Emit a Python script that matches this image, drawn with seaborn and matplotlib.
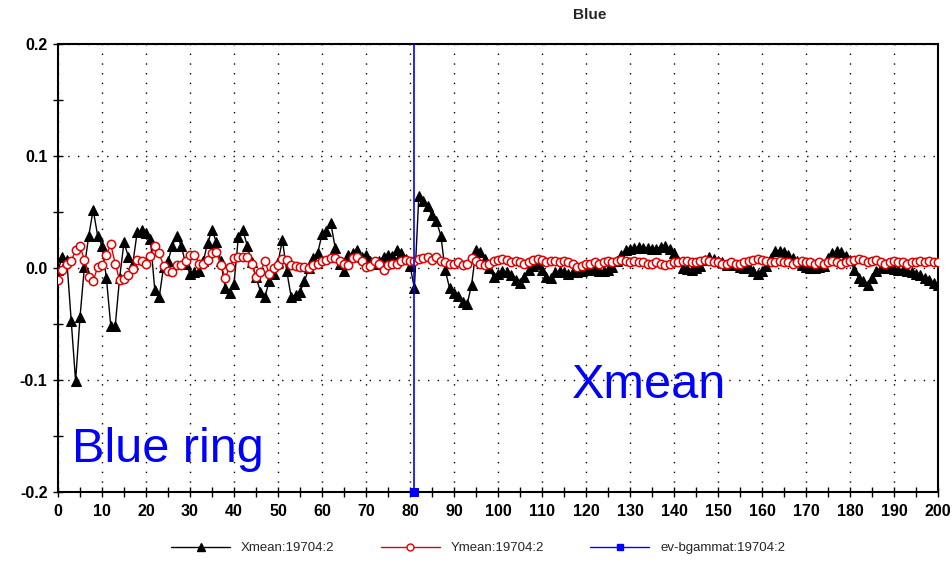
import numpy as np
import pandas as pd
import matplotlib
matplotlib.use("Agg")
import matplotlib.pyplot as plt
import seaborn as sns
from matplotlib.ticker import MultipleLocator, FormatStrFormatter
from matplotlib.lines import Line2D

# ---------------- data ----------------
x_index = list(range(0, 201))

xmean = [
    -0.002, 0.010, 0.007, -0.047, -0.101, -0.044, 0.001, 0.029, 0.052, 0.029,
    0.020, -0.009, -0.052, -0.052, -0.009, 0.023, 0.010, 0.004, 0.032, 0.034,
    0.031, 0.026, -0.020, -0.026, 0.001, 0.006, 0.020, 0.029, 0.020, 0.004,
    -0.005, -0.004, -0.003, 0.006, 0.022, 0.034, 0.023, 0.006, -0.018, -0.022,
    -0.014, 0.028, 0.034, 0.020, 0.005, -0.008, -0.021, -0.026, -0.012, -0.005,
    0.005, 0.025, -0.003, -0.026, -0.024, -0.021, -0.012, 0.000, 0.009, 0.013,
    0.030, 0.033, 0.040, 0.018, 0.004, -0.003, 0.012, 0.013, 0.016, 0.010,
    0.012, 0.006, 0.004, 0.006, 0.010, 0.012, 0.011, 0.016, 0.013, 0.008,
    0.002, -0.018, 0.064, 0.060, 0.055, 0.047, 0.042, 0.029, -0.002, -0.018,
    -0.022, -0.025, -0.030, -0.032, -0.015, 0.016, 0.014, 0.008, 0.000, -0.008,
    -0.005, -0.003, -0.004, -0.006, -0.011, -0.013, -0.008, -0.002, 0.002, 0.004,
    -0.002, -0.008, -0.009, -0.004, -0.003, -0.004, -0.005, -0.004, -0.004, -0.003,
    -0.002, -0.001, -0.002, -0.003, -0.003, -0.002, 0.001, 0.006, 0.012, 0.016,
    0.017, 0.018, 0.019, 0.018, 0.018, 0.017, 0.017, 0.019, 0.020, 0.017,
    0.013, 0.006, 0.000, -0.001, -0.002, 0.000, 0.002, 0.007, 0.010, 0.008,
    0.006, 0.005, 0.003, 0.004, 0.003, 0.001, 0.000, 0.001, -0.003, -0.005,
    -0.003, 0.002, 0.009, 0.015, 0.015, 0.014, 0.012, 0.009, 0.006, 0.003,
    0.001, 0.000, 0.000, 0.001, 0.002, 0.009, 0.013, 0.015, 0.014, 0.011,
    0.007, -0.002, -0.009, -0.012, -0.015, -0.009, -0.003, 0.000, 0.000, 0.000,
    -0.001, -0.002, -0.002, -0.003, -0.004, -0.005, -0.006, -0.009, -0.011, -0.013,
    -0.015,
]

ymean = [
    -0.011, -0.002, 0.004, 0.006, 0.016, 0.020, 0.007, -0.008, -0.012, 0.001,
    0.003, 0.012, 0.021, 0.004, -0.011, -0.010, -0.006, -0.001, 0.007, 0.006,
    0.004, 0.011, 0.020, 0.013, 0.002, -0.003, -0.004, 0.003, 0.003, 0.006,
    0.012, 0.012, 0.004, 0.004, 0.007, 0.013, 0.014, 0.003, -0.009, 0.001,
    0.009, 0.010, 0.010, 0.010, 0.004, -0.008, -0.004, 0.006, -0.005, 0.000,
    0.003, 0.008, 0.007, 0.003, 0.002, 0.001, 0.001, 0.000, 0.003, 0.004,
    0.006, 0.007, 0.009, 0.009, 0.006, 0.004, 0.003, 0.009, 0.010, 0.006,
    0.001, 0.002, 0.006, 0.004, -0.002, 0.003, 0.004, 0.004, 0.006, 0.007,
    0.006, 0.006, 0.008, 0.009, 0.010, 0.007, 0.010, 0.006, 0.005, 0.004,
    0.004, 0.005, 0.003, 0.004, 0.009, 0.006, 0.004, 0.003, 0.004, 0.006,
    0.007, 0.008, 0.007, 0.005, 0.006, 0.005, 0.004, 0.005, 0.007, 0.008,
    0.007, 0.005, 0.006, 0.006, 0.005, 0.006, 0.005, 0.004, 0.001, 0.002,
    0.004, 0.004, 0.005, 0.004, 0.005, 0.006, 0.005, 0.006, 0.007, 0.006,
    0.005, 0.006, 0.005, 0.005, 0.004, 0.004, 0.005, 0.004, 0.003, 0.004,
    0.005, 0.005, 0.006, 0.006, 0.005, 0.005, 0.006, 0.007, 0.006, 0.005,
    0.005, 0.004, 0.004, 0.005, 0.004, 0.004, 0.005, 0.006, 0.007, 0.008,
    0.007, 0.006, 0.005, 0.005, 0.006, 0.005, 0.005, 0.004, 0.005, 0.006,
    0.005, 0.005, 0.004, 0.005, 0.004, 0.005, 0.006, 0.005, 0.004, 0.005,
    0.006, 0.007, 0.008, 0.007, 0.005, 0.006, 0.007, 0.005, 0.004, 0.005,
    0.006, 0.005, 0.005, 0.004, 0.005, 0.005, 0.006, 0.005, 0.006, 0.005,
    0.005,
]

ev_x = [81, 81]
ev_y = [-0.2, 0.2]

series_labels = ["Xmean:19704:2", "Ymean:19704:2", "ev-bgammat:19704:2"]
title_text = "Blue"
note_left = "Blue ring"
note_right = "Xmean"

# ---------------- style ----------------
sns.set_theme(style="white")
plt.rcParams["font.family"] = ["Liberation Sans", "DejaVu Sans"]
plt.rcParams["axes.unicode_minus"] = False

fig = plt.figure(figsize=(9.52, 5.76), dpi=100)
ax = fig.add_axes([58 / 952, (576 - 492) / 576, 880 / 952, 448 / 576])

df_x = pd.DataFrame({"x": x_index, "y": xmean})
df_y = pd.DataFrame({"x": x_index, "y": ymean})
df_ev = pd.DataFrame({"x": ev_x, "y": ev_y})

sns.lineplot(data=df_x, x="x", y="y", ax=ax, color="black", lw=1.0,
             marker="^", markersize=6.5, markeredgecolor="black",
             markerfacecolor="black", estimator=None, sort=False, zorder=3)
sns.lineplot(data=df_y, x="x", y="y", ax=ax, color="#e00000", lw=1.0,
             marker="o", markersize=6, markeredgecolor="#e00000",
             markerfacecolor="white", markeredgewidth=1.1,
             estimator=None, sort=False, zorder=4)
sns.lineplot(data=df_ev, x="x", y="y", ax=ax, color="blue", lw=1.2,
             marker="s", markersize=6, markevery=[0], markeredgecolor="blue",
             markerfacecolor="blue", estimator=None, sort=False, zorder=5,
             clip_on=False)

ax.set_xlim(0, 200)
ax.set_ylim(-0.2, 0.2)
ax.set_xlabel("")
ax.set_ylabel("")

ax.xaxis.set_major_locator(MultipleLocator(10))
ax.xaxis.set_minor_locator(MultipleLocator(5))
ax.yaxis.set_major_locator(MultipleLocator(0.1))
ax.yaxis.set_minor_locator(MultipleLocator(0.05))
ax.yaxis.set_major_formatter(FormatStrFormatter("%.1f"))

ax.tick_params(axis="both", which="both", direction="inout", length=7,
               width=1.0, color="black", bottom=True, left=True)
ax.tick_params(axis="x", which="major", pad=5)
ax.tick_params(axis="y", which="major", pad=4)
for lbl in ax.get_xticklabels() + ax.get_yticklabels():
    lbl.set_fontfamily(["Liberation Sans", "DejaVu Sans"])
    lbl.set_fontweight("bold")
    lbl.set_fontsize(11.5)
    lbl.set_color("black")

ax.grid(True, which="major", axis="both", color="black",
        linestyle=(0, (1, 6)), linewidth=1.0)
ax.set_axisbelow(True)
for s in ax.spines.values():
    s.set_visible(True)
    s.set_color("black")
    s.set_linewidth(1.5)

# annotations
ax.text(3.2, -0.173, note_left, color="blue", fontsize=35,
        family=["Liberation Sans", "DejaVu Sans"], ha="left", va="baseline")
ax.text(116.8, -0.116, note_right, color="blue", fontsize=35,
        family=["Liberation Sans", "DejaVu Sans"], ha="left", va="baseline")

fig.text(590 / 952, 1 - 15 / 576, title_text, ha="center", va="center",
         fontsize=11, fontweight="bold",
         family=["Liberation Sans", "DejaVu Sans"])

# legend
handles = [
    Line2D([], [], color="black", lw=1.0, marker="^", markersize=6,
           markerfacecolor="black", markeredgecolor="black"),
    Line2D([], [], color="#e00000", lw=1.0, marker="o", markersize=5,
           markerfacecolor="white", markeredgecolor="#e00000"),
    Line2D([], [], color="blue", lw=1.0, marker="s", markersize=5,
           markerfacecolor="blue", markeredgecolor="blue"),
]
fig.legend(handles, series_labels, loc="center", bbox_to_anchor=(478 / 952, 1 - 548 / 576),
           ncol=3, frameon=False, handlelength=4.5, columnspacing=3.5,
           prop=dict(family=["Liberation Sans", "DejaVu Sans"], size=9.5))
if ax.get_legend() is not None:
    ax.get_legend().remove()

fig.savefig("out.png", dpi=100)
